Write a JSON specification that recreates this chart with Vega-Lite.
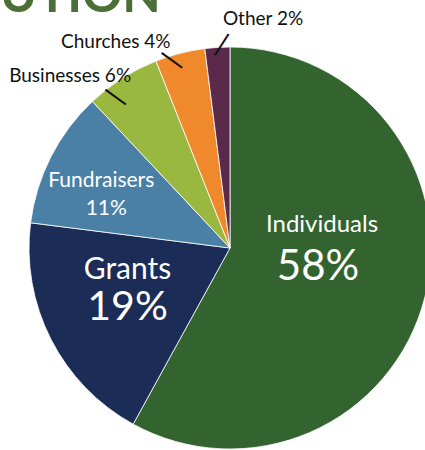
{
  "$schema": "https://vega.github.io/schema/vega-lite/v6.json",
  "width": 460,
  "height": 496,
  "autosize": {"type": "none"},
  "padding": 0,
  "background": "white",
  "title": {"text": "UTION", "anchor": "start", "frame": "group", "orient": "top", "offset": 0, "dy": 62, "baseline": "alphabetic", "fontSize": 50, "fontWeight": "bold", "font": "Lato", "color": "#4c6f37"},
  "data": {"values": [
    {"category": "Individuals", "pct": 58, "rank": 1, "pctText": "58%", "caption": "Individuals 58%"},
    {"category": "Grants", "pct": 19, "rank": 2, "pctText": "19%", "caption": "Grants 19%"},
    {"category": "Fundraisers", "pct": 11, "rank": 3, "pctText": "11%", "caption": "Fundraisers 11%"},
    {"category": "Businesses", "pct": 6, "rank": 4, "pctText": "6%", "caption": "Businesses 6%"},
    {"category": "Churches", "pct": 4, "rank": 5, "pctText": "4%", "caption": "Churches 4%"},
    {"category": "Other", "pct": 2, "rank": 6, "pctText": "2%", "caption": "Other 2%"}
  ]},
  "encoding": {
    "theta": {"field": "pct", "type": "quantitative", "stack": true},
    "order": {"field": "rank", "type": "quantitative"}
  },
  "layer": [
    {
      "mark": {"type": "arc", "outerRadius": 201, "stroke": "#ffffff", "strokeWidth": 0.8},
      "encoding": {
        "color": {"field": "category", "type": "nominal", "legend": null,
          "scale": {"domain": ["Individuals", "Grants", "Fundraisers", "Businesses", "Churches", "Other"],
                    "range": ["#33632f", "#1b2c56", "#4a80a6", "#9ab83f", "#f0892c", "#5b2a4b"]}}
      }
    },
    {
      "mark": {"type": "text", "radius": 95, "dy": -40, "fontSize": 24, "font": "Lato", "color": "#ffffff", "align": "center", "baseline": "alphabetic"},
      "encoding": {"text": {"condition": {"test": "datum.category === 'Individuals'", "field": "category"}, "value": ""}}
    },
    {
      "mark": {"type": "text", "radius": 95, "dx": -4, "dy": 8, "fontSize": 42, "font": "Lato", "color": "#ffffff", "align": "center", "baseline": "alphabetic"},
      "encoding": {"text": {"condition": {"test": "datum.category === 'Individuals'", "field": "pctText"}, "value": ""}}
    },
    {
      "mark": {"type": "text", "radius": 115, "dy": -21, "fontSize": 30, "font": "Lato", "color": "#ffffff", "align": "center", "baseline": "alphabetic"},
      "encoding": {"text": {"condition": {"test": "datum.category === 'Grants'", "field": "category"}, "value": ""}}
    },
    {
      "mark": {"type": "text", "radius": 115, "dy": 20, "fontSize": 41, "font": "Lato", "color": "#ffffff", "align": "center", "baseline": "alphabetic"},
      "encoding": {"text": {"condition": {"test": "datum.category === 'Grants'", "field": "pctText"}, "value": ""}}
    },
    {
      "mark": {"type": "text", "radius": 140, "dx": -4, "dy": 3, "fontSize": 21, "font": "Lato", "color": "#ffffff", "align": "center", "baseline": "alphabetic"},
      "encoding": {"text": {"condition": {"test": "datum.category === 'Fundraisers'", "field": "category"}, "value": ""}}
    },
    {
      "mark": {"type": "text", "radius": 140, "dx": 1, "dy": 31, "fontSize": 21, "font": "Lato", "color": "#ffffff", "align": "center", "baseline": "alphabetic"},
      "encoding": {"text": {"condition": {"test": "datum.category === 'Fundraisers'", "field": "pctText"}, "value": ""}}
    },
    {
      "mark": {"type": "text", "radius": 222, "dx": 47, "dy": -1, "fontSize": 19, "font": "Lato", "color": "#111111", "align": "center", "baseline": "alphabetic"},
      "encoding": {"text": {"condition": {"test": "datum.category === 'Other'", "field": "caption"}, "value": ""}}
    },
    {
      "mark": {"type": "text", "radius": 210, "dx": -62, "dy": 3, "fontSize": 19, "font": "Lato", "color": "#111111", "align": "center", "baseline": "alphabetic"},
      "encoding": {"text": {"condition": {"test": "datum.category === 'Churches'", "field": "caption"}, "value": ""}}
    },
    {
      "mark": {"type": "text", "radius": 205, "dx": -50, "dy": 7, "fontSize": 19, "font": "Lato", "color": "#111111", "align": "center", "baseline": "alphabetic"},
      "encoding": {"text": {"condition": {"test": "datum.category === 'Businesses'", "field": "caption"}, "value": ""}}
    },
    {
      "mark": {"type": "text", "radius": 204, "dx": 2.3, "dy": 3.6, "angle": 303, "fontSize": 28, "font": "DejaVu Sans", "color": "#111111", "align": "center", "baseline": "middle"},
      "encoding": {"text": {"condition": {"test": "datum.category === 'Other'", "value": "—"}, "value": ""}}
    },
    {
      "mark": {"type": "text", "radius": 193, "dx": -8.7, "dy": 5, "angle": 36, "fontSize": 28, "font": "DejaVu Sans", "color": "#111111", "align": "center", "baseline": "middle"},
      "encoding": {"text": {"condition": {"test": "datum.category === 'Churches'", "value": "—"}, "value": ""}}
    },
    {
      "mark": {"type": "text", "radius": 185, "dx": -9.2, "dy": 12.9, "angle": 36, "fontSize": 28, "font": "DejaVu Sans", "color": "#111111", "align": "center", "baseline": "middle"},
      "encoding": {"text": {"condition": {"test": "datum.category === 'Businesses'", "value": "—"}, "value": ""}}
    }
  ]
}
